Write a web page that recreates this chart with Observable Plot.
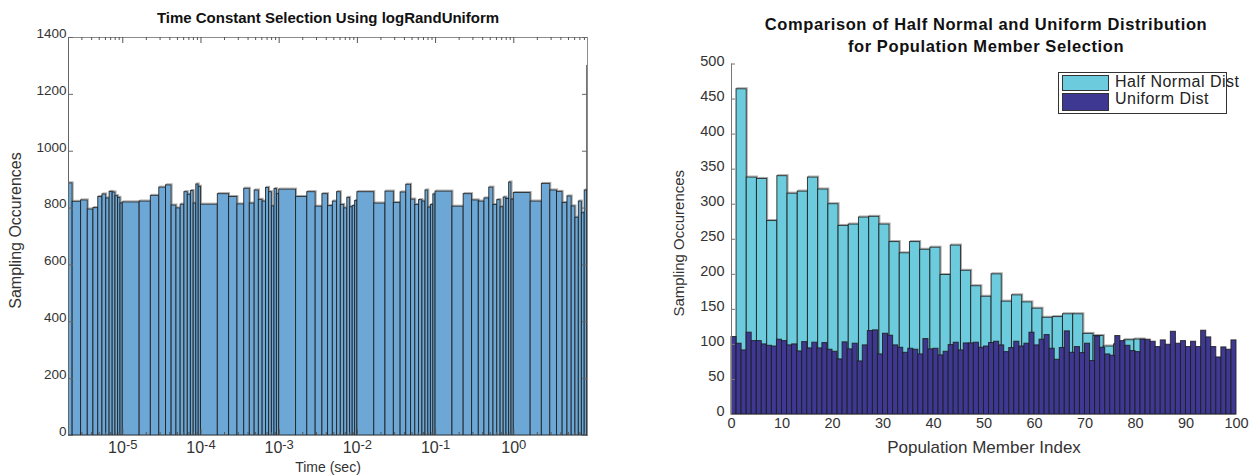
<!DOCTYPE html>
<html>
<head>
<meta charset="utf-8">
<script src="https://cdn.jsdelivr.net/npm/d3@7"></script>
<script src="https://cdn.jsdelivr.net/npm/@observablehq/plot@0.6"></script>
<style>
  body { margin: 0; background: #fff; }
  #wrap { position: relative; width: 1260px; height: 476px; overflow: hidden;
          font-family: "Liberation Sans", Arial, sans-serif; color: #333; }
  #left, #right { position: absolute; top: 0; }
  #left { left: 0; }
  #right { left: 630px; }
  .legend { position: absolute; left: 1058px; top: 72px; width: 169px; height: 42px;
            border: 1px solid #333; background: #fff; box-sizing: border-box; }
  .legend .sw { position: absolute; left: 3px; width: 47px; border: 1px solid #333; box-sizing: border-box; }
  .legend .lab { position: absolute; left: 56px; font-size: 16px; letter-spacing: 0.5px;
                 color: #222; white-space: nowrap; line-height: 16px; }
</style>
</head>
<body>
<div id="wrap">
  <div id="left"></div>
  <div id="right"></div>
  <div class="legend" id="legend"></div>
</div>
<script>
// ---- Time constant histogram (14 linear bins per decade, drawn on a log axis) ----
const decades = [-6, -5, -4, -3, -2, -1, 0];
const binEdgeMultipliers = [1, 1.643, 2.286, 2.929, 3.571, 4.214, 4.857, 5.5, 6.143, 6.786, 7.429, 8.071, 8.714, 9.357, 10];
const countsDecadeM6 = [null, 887, 822, 827, 795, 800, 839, 848, 834, 857, 855, 842, 836, 816];
const countsDecadeM5 = [820, 823, 843, 872, 880, 809, 799, 812, 856, 847, 860, 816, 883, 875];
const countsDecadeM4 = [812, 849, 839, 813, 868, 816, 862, 829, 823, 871, 856, 806, 867, 849];
const countsDecadeM3 = [865, 839, 856, 805, 849, 807, 823, 856, 811, 799, 836, 803, 807, 825];
const countsDecadeM2 = [856, 816, 858, 818, 855, 882, 830, 811, 828, 823, 862, 802, 811, 848];
const countsDecadeM1 = [858, 805, 849, 827, 823, 834, 872, 811, 828, 803, 837, 832, 890, 830];
const countsDecade0  = [853, 823, 885, 862, 857, 818, 841, 806, 766, 823, 782, 862, 1300, null];
const decadeCounts = [countsDecadeM6, countsDecadeM5, countsDecadeM4, countsDecadeM3, countsDecadeM2, countsDecadeM1, countsDecade0];
const timeDomain = [2.023e-6, 8.76];
const timeDecadeTicks = [1e-5, 1e-4, 1e-3, 1e-2, 1e-1, 1];
const occurrenceTicks = [0, 200, 400, 600, 800, 1000, 1200, 1400];

// ---- Population member selection ----
const halfNormalStart = 1, halfNormalBinWidth = 2.02;
const halfNormalCounts = [
  464, 338, 336, 276, 340, 315, 318, 338, 321, 300,
  269, 271, 281, 282, 271, 246, 230, 246, 235, 238,
  199, 241, 205, 183, 168, 200, 161, 170, 160, 151,
  138, 139, 143, 143, 115, 112, 97, 100, 106, 107,
  null, null, null, null, null, null, null, null, null
];
const uniformCounts = [
  110.5, 101, 91.4, 116.7, 104.7, 104.7, 100, 98, 97, 106.7,
  104.7, 98.6, 100, 90, 103.3, 94.3, 102.4, 94.3, 101.9, 92.4,
  89.5, 78.6, 102.9, 92.9, 101, 75.7, 98.6, 119, 120, 85.7,
  115.2, 112.4, 98.6, 95.2, 88, 93.8, 92.4, 85.7, 107.6, 92.9,
  93.8, 84.3, 89.5, 99, 102.4, 91.4, 101.4, 101.4, 102.4, 95.2,
  97, 102, 103.8, 98.6, 89, 94.8, 103.8, 97, 101, 116.7,
  98.6, 106.7, 113.3, 93.8, 78.1, 94.8, 118.6, 88, 96.2, 87.6,
  101, 76.2, 111.4, 95.2, 85.7, 83.8, 111.9, 104.7, 98, 90.5,
  89, 106.7, 106.7, 103.8, 96.2, 105.7, 99.5, 118, 101, 104.7,
  96.2, 103.8, 96.2, 119.5, 110, 96.2, 81.4, 95.7, 92.4, 105.7
];
const memberTicks = [0, 10, 20, 30, 40, 50, 60, 70, 80, 90, 100];
const selectionTicks = [0, 50, 100, 150, 200, 250, 300, 350, 400, 450, 500];
const seriesNames = ["Half Normal Dist", "Uniform Dist"];
const seriesColors = ["#6ccbdc", "#3e3893"];
const rightTitle = "Comparison of Half Normal and Uniform Distribution\nfor Population Member Selection";

const FONT = "Liberation Sans, Arial, sans-serif";
const BAR_STROKE = "#1c1c1c";

// Build the bins of the time-constant histogram
const timeBins = [];
decades.forEach((k, di) => {
  decadeCounts[di].forEach((c, i) => {
    if (c == null) return;
    timeBins.push({lo: binEdgeMultipliers[i] * 10 ** k, hi: binEdgeMultipliers[i + 1] * 10 ** k, count: c});
  });
});
const minorTimeTicks = d3.scaleLog().domain(timeDomain).ticks()
  .filter(t => Math.abs(Math.log10(t) - Math.round(Math.log10(t))) > 1e-6);

const L = {w: 630, h: 476, ml: 68, mr: 43, mt: 37, mb: 41};
const Lw = L.w - L.ml - L.mr, Lh = L.h - L.mt - L.mb;

const leftChart = Plot.plot({
  width: L.w, height: L.h,
  marginLeft: L.ml, marginRight: L.mr, marginTop: L.mt, marginBottom: L.mb,
  style: {fontFamily: FONT, color: "#333", background: "transparent", overflow: "visible"},
  x: {type: "log", domain: timeDomain},
  y: {domain: [0, 1400]},
  marks: [
    Plot.rectY(timeBins, {x1: "lo", x2: "hi", y: "count", fill: "none", stroke: "#a9a9a9", dy: -1, dx: 1, clip: true}),
    Plot.rectY(timeBins, {x1: "lo", x2: "hi", y: "count", fill: "#6ca7d5", stroke: BAR_STROKE, strokeOpacity: 0.85, clip: true}),
    Plot.frame({stroke: "#8c8c8c"}),
    Plot.ruleX([timeDomain[0]], {stroke: "#666"}),
    // inward ticks on all four sides
    Plot.tickX(minorTimeTicks, {x: d => d, insetBottom: Lh - 3, stroke: "#555"}),
    Plot.tickX(timeDecadeTicks, {x: d => d, insetBottom: Lh - 6, stroke: "#555"}),
    Plot.tickX(minorTimeTicks, {x: d => d, insetTop: Lh - 3, stroke: "#555"}),
    Plot.tickX(timeDecadeTicks, {x: d => d, insetTop: Lh - 6, stroke: "#555"}),
    Plot.tickY(occurrenceTicks, {y: d => d, insetRight: Lw - 5, stroke: "#666"}),
    Plot.tickY(occurrenceTicks, {y: d => d, insetLeft: Lw - 5, stroke: "#666"}),
    Plot.axisY({ticks: occurrenceTicks, tickSize: 0, tickPadding: 2, fontSize: 13.5, dy: -4, label: null,
                tickFormat: d => String(d)}),
    Plot.axisX({ticks: timeDecadeTicks, tickSize: 0, tickPadding: 6, fontSize: 16, label: null,
                tickFormat: d => `10 ${Math.round(Math.log10(d))}`}),
    Plot.text(["Time (sec)"], {text: d => d, frameAnchor: "bottom", lineAnchor: "middle", dy: 32, fontSize: 14}),
    Plot.text(["Sampling Occurences"], {text: d => d, frameAnchor: "left", textAnchor: "middle", lineAnchor: "middle",
               rotate: -90, dx: -53, dy: -6, fontSize: 16}),
    Plot.text(["Time Constant Selection Using logRandUniform"], {text: d => d, frameAnchor: "top", lineAnchor: "middle",
               dy: -19, fontSize: 15, fontWeight: "bold", fill: "#111"})
  ]
});

// superscript exponents on the decade labels
d3.select(leftChart).selectAll('g[aria-label="x-axis tick label"] text').each(function () {
  const parts = this.textContent.split(" ");
  if (parts.length !== 2) return;
  const t = d3.select(this);
  t.text(null);
  t.append("tspan").text(parts[0]);
  t.append("tspan").attr("dy", "-0.3em").attr("font-size", "13px").text(parts[1]);
});
document.getElementById("left").append(leftChart);

// ---- right panel ----
const halfNormalBins = halfNormalCounts
  .map((c, i) => ({lo: halfNormalStart + i * halfNormalBinWidth, hi: halfNormalStart + (i + 1) * halfNormalBinWidth, count: c}))
  .filter(d => d.count != null);
const uniformBins = uniformCounts.map((c, i) => ({lo: i, hi: i + 1, count: c}));

const R = {w: 630, h: 476, ml: 101, mr: 24, mt: 63.5, mb: 62};
const Rw = R.w - R.ml - R.mr;

const rightChart = Plot.plot({
  width: R.w, height: R.h,
  marginLeft: R.ml, marginRight: R.mr, marginTop: R.mt, marginBottom: R.mb,
  style: {fontFamily: FONT, color: "#333", background: "transparent", overflow: "visible"},
  x: {domain: [0, 100]},
  y: {domain: [0, 500]},
  marks: [
    Plot.rectY(halfNormalBins, {x1: "lo", x2: "hi", y: "count", fill: "none", stroke: "#a9a9a9", dy: -1, dx: 1}),
    Plot.rectY(halfNormalBins, {x1: "lo", x2: "hi", y: "count", fill: seriesColors[0], stroke: BAR_STROKE, strokeOpacity: 0.85}),
    Plot.rectY(uniformBins, {x1: "lo", x2: "hi", y: "count", fill: seriesColors[1], stroke: BAR_STROKE, strokeOpacity: 0.85}),
    Plot.ruleX([0], {stroke: "#777"}),
    Plot.ruleY([0], {stroke: "#777"}),
    Plot.tickY(selectionTicks, {y: d => d, insetRight: Rw - 4, stroke: "#777"}),
    Plot.axisY({ticks: selectionTicks, tickSize: 0, tickPadding: 7, fontSize: 14.5, dy: -3, label: null}),
    Plot.axisX({ticks: memberTicks, tickSize: 0, tickPadding: 3, fontSize: 14.5, label: null}),
    Plot.text(["Population Member Index"], {text: d => d, frameAnchor: "bottom", lineAnchor: "middle", dy: 33, fontSize: 17}),
    Plot.text(["Sampling Occurences"], {text: d => d, frameAnchor: "left", textAnchor: "middle", lineAnchor: "middle",
               rotate: -90, dx: -52, dy: 4, fontSize: 15}),
    Plot.text([rightTitle], {text: d => d, frameAnchor: "top", lineAnchor: "middle", dy: -30, dx: 2, lineHeight: 1.3,
               fontSize: 16.5, fontWeight: "bold", fill: "#111"})
  ]
});
// the two-line heading is set with slightly open tracking
d3.select(rightChart).selectAll("text")
  .filter(function () { return this.textContent.startsWith("Comparison"); })
  .attr("letter-spacing", "0.6px");
document.getElementById("right").append(rightChart);

// legend box
const legend = d3.select("#legend");
seriesNames.forEach((name, i) => {
  legend.append("div").attr("class", "sw")
    .style("top", (i === 0 ? 2 : 20) + "px").style("height", (i === 0 ? 16 : 18) + "px")
    .style("background", seriesColors[i]);
  legend.append("div").attr("class", "lab")
    .style("top", (i === 0 ? 1 : 18) + "px").text(name);
});
</script>
</body>
</html>
